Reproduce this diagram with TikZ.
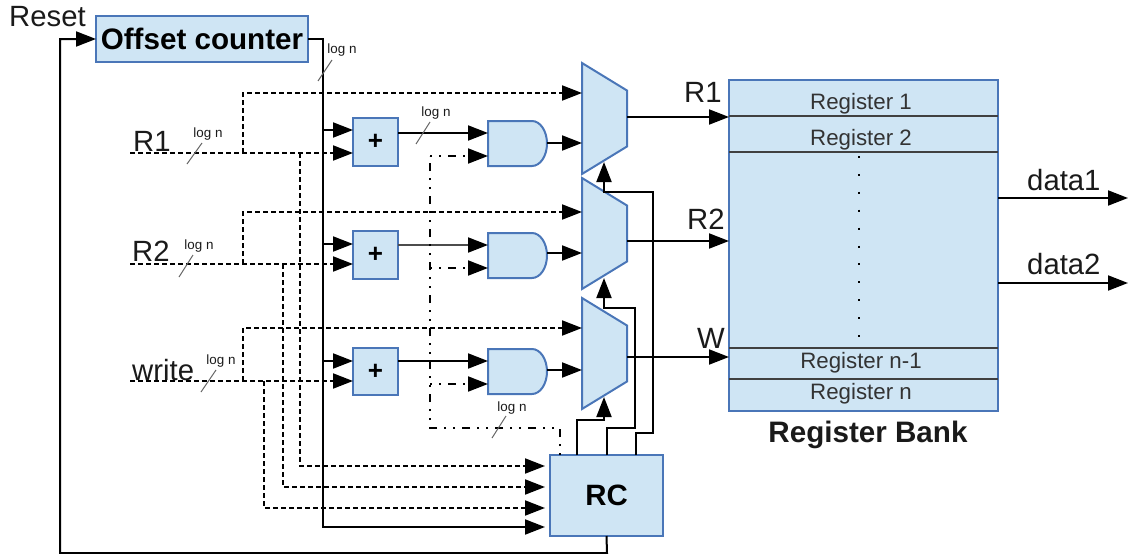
\documentclass[tikz,border=0pt]{standalone}
\usepackage{fontspec}
\setmainfont{Liberation Sans}
\usetikzlibrary{arrows.meta}
\definecolor{fillb}{HTML}{CFE5F4}
\definecolor{edgeb}{HTML}{4A76B8}
\definecolor{txt}{HTML}{1A1A1A}
\newcommand\fsz[2]{\fontsize{#1pt}{#2pt}\selectfont}
\tikzset{
  box/.style={draw=edgeb,fill=fillb,line width=2pt,inner sep=0pt,outer sep=0pt,anchor=north west},
  ghost/.style={inner sep=0pt,outer sep=0pt,anchor=north west},
  sig/.style={line width=2pt,draw=black,-{Triangle[length=20pt,width=15pt,color=black,fill=black]}},
  wire/.style={line width=2pt,draw=black},
  dsig/.style={sig,dash pattern=on 5pt off 3pt},
  dwire/.style={wire,dash pattern=on 5pt off 3pt},
  cpat/.style={dash pattern=on 2pt off 7pt on 2pt off 7pt on 8pt off 7pt},
  cwire/.style={wire,cpat},
  csig/.style={sig,cpat},
  tick/.style={draw=black!60,line width=1pt},
  lg/.style={font=\fsz{13.4}{15},text=txt,inner sep=0pt},
  lab/.style={font=\fsz{29.3}{32},text=txt,inner sep=0pt},
  reg/.style={font=\fsz{22.3}{25},text=black!80,inner sep=0pt,anchor=base}
}
\newcommand\muxshape[1]{\draw[draw=edgeb,fill=fillb,line width=2pt,line join=miter]
  (#1.north west) -- ([yshift=-27.5pt]#1.north east) -- ([yshift=27.5pt]#1.south east) -- (#1.south west) -- cycle;}
\newcommand\andshape[1]{\draw[draw=edgeb,fill=fillb,line width=2pt]
  (#1.north west) -- ([xshift=-15pt]#1.north east) arc[start angle=90,end angle=-90,x radius=15pt,y radius=22.5pt] -- (#1.south west) -- cycle;}
\begin{document}
\begin{tikzpicture}[x=1pt,y=-1pt]
\useasboundingbox (0,0) rectangle (1128,554);
% text labels
\node[lab,anchor=base west] (lreset) at (9,26) {Reset};
\node[lab,anchor=base west] (lr1) at (133,151) {R1};
\node[lab,anchor=base west] (lr2) at (132,261) {R2};
\node[lab,anchor=base west] (lwr) at (132,380) {write};
\node[lab,anchor=base west] (lor1) at (684,102) {R1};
\node[lab,anchor=base west] (lor2) at (687,229) {R2};
\node[lab,anchor=base west] (low) at (697,348) {W};
\node[lab,anchor=base west] (ld1) at (1027,190) {data1};
\node[lab,anchor=base west] (ld2) at (1027,274) {data2};
% nodes
\node[box,minimum width=212pt,minimum height=46pt,font=\bfseries\fsz{29.6}{32},text=black,text depth=0pt] (oc) at (96,16) {Offset counter};
\node[box,minimum width=45pt,minimum height=48pt,font=\bfseries\fsz{26}{28},text=black] (p1) at (353,118) {+};
\node[box,minimum width=45pt,minimum height=48pt,font=\bfseries\fsz{26}{28},text=black] (p2) at (353,231) {+};
\node[box,minimum width=45pt,minimum height=47pt,font=\bfseries\fsz{26}{28},text=black] (p3) at (353,348) {+};
\node[ghost,minimum width=59pt,minimum height=45pt] (a1) at (488,121) {};
\node[ghost,minimum width=59pt,minimum height=45pt] (a2) at (488,233) {};
\node[ghost,minimum width=59pt,minimum height=45pt] (a3) at (488,349) {};
\node[ghost,minimum width=45pt,minimum height=111pt] (m1) at (582,63) {};
\node[ghost,minimum width=45pt,minimum height=111pt] (m2) at (582,178) {};
\node[ghost,minimum width=45pt,minimum height=111pt] (m3) at (582,298) {};
\node[box,minimum width=113pt,minimum height=81pt,font=\bfseries\fsz{29.4}{32},text=black] (rc) at (550,455) {RC};
\node[box,minimum width=269pt,minimum height=331pt] (rb) at (729,80) {};
\andshape{a1}\andshape{a2}\andshape{a3}
\muxshape{m1}\muxshape{m2}\muxshape{m3}
% register bank
\foreach \y in {116,152,348,379}{\draw[black!75,line width=1.2pt] (rb.west |- 0,\y) -- (rb.east |- 0,\y);}
\node[reg] (r1) at (861,109) {Register 1};
\node[reg] (r2) at (861,145) {Register 2};
\node[reg] (r3) at (861,368) {Register n-1};
\node[reg] (r4) at (861,399) {Register n};
\node[font=\bfseries\fsz{29.6}{32},text=txt,inner sep=0pt,anchor=base] (rbl) at (868,442) {Register Bank};
\draw[black,line width=2pt,dash pattern=on 2pt off 15.9pt] (859,156) coordinate (dt) -- (859,338) coordinate (db);
% junctions
\coordinate (jr1) at (243,153); \coordinate (jr2) at (243,264); \coordinate (jw) at (243,381);
\coordinate (s1) at (130,153); \coordinate (s2) at (130,264); \coordinate (s3) at (130,381);
\coordinate (bus) at (323,39);
% reset loop
\draw[sig] (rc.south) -- (607,553) -- (60,553) -- (60,39) -- (oc.west);
% offset counter bus
\draw[sig] (oc.east |- bus) -- (bus) -- (323,527) -- (545,527);
\draw[sig] (323,130) -- (p1.west |- 0,130);
\draw[sig] (323,244) -- (p2.west |- 0,244);
\draw[sig] (323,361) -- (p3.west |- 0,361);
% R1
\draw[dsig] (s1) -- (p1.west |- s1);
\draw[dsig] (jr1) -- (243,93) -- (m1.west |- 0,93);
\draw[dsig] (300,153) -- (300,466) -- (545,466);
% R2
\draw[dsig] (s2) -- (p2.west |- s2);
\draw[dsig] (jr2) -- (243,212) -- (m2.west |- 0,212);
\draw[dsig] (283,264) -- (283,487) -- (545,487);
% write
\draw[dsig] (s3) -- (p3.west |- s3);
\draw[dsig] (jw) -- (243,328) -- (m3.west |- 0,328);
\draw[dsig] (264,381) -- (264,508) -- (545,508);
% adder -> and
\draw[sig] (p1.east |- 0,133) -- (a1.west |- 0,133);
\draw[sig,draw=black!70] (p2.east |- 0,245) -- (a2.west |- 0,245);
\draw[sig] (p3.east |- 0,361) -- (a3.west |- 0,361);
% and -> mux
\draw[sig] (547,143) -- (m1.west |- 0,143);
\draw[sig] (547,253) -- (m2.west |- 0,253);
\draw[sig] (547,370) -- (m3.west |- 0,370);
% mux -> bank
\draw[sig] (627,117) -- (rb.west |- 0,117);
\draw[sig] (627,241) -- (rb.west |- 0,241);
\draw[sig] (627,357) -- (rb.west |- 0,357);
% bank outputs
\draw[sig] (rb.east |- 0,198) -- (1128,198);
\draw[sig] (rb.east |- 0,283) -- (1128,283);
% RC controls
\draw[sig] (577,455) -- (577,420) -- (604,420) -- (604,397);
\draw[sig] (607,455) -- (607,428) -- (635,428) -- (635,308) -- (604,308) -- (604,278);
\draw[sig] (636,455) -- (636,433) -- (653,433) -- (653,192) -- (604,192) -- (604,162);
% dash-dot from RC
\draw[cwire] (560,455) -- (560,428) -- (430,428) -- (430,156);
\draw[csig] (430,156) -- (a1.west |- 0,156);
\draw[csig] (430,268) -- (a2.west |- 0,268);
\draw[csig] (430,384) -- (a3.west |- 0,384);
% bus ticks and labels
\draw[tick] (318,81) -- (332,60); \node[lg] (l1) at (342,50) {log n};
\draw[tick] (187,164) -- (202,143); \node[lg] (l2) at (208,134) {log n};
\draw[tick] (179,277) -- (193,255); \node[lg] (l3) at (199,246) {log n};
\draw[tick] (201,392) -- (216,370); \node[lg] (l4) at (221,361) {log n};
\draw[tick] (416,144) -- (430,122); \node[lg] (l5) at (436,113) {log n};
\draw[tick] (492,438) -- (506,416); \node[lg] (l6) at (512,408) {log n};
\end{tikzpicture}
\end{document}
